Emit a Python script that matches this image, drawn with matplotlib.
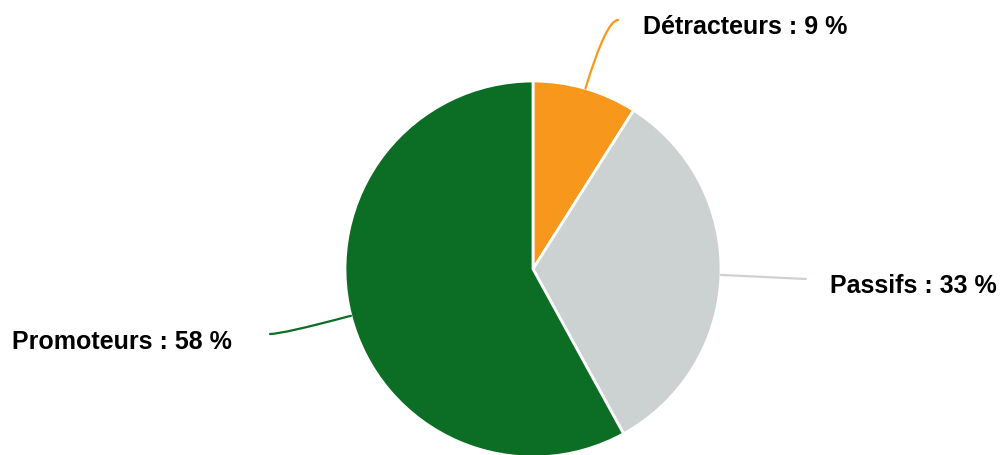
import numpy as np
import matplotlib
matplotlib.use("Agg")
import matplotlib.pyplot as plt

# Données
categories = ["Détracteurs", "Passifs", "Promoteurs"]
valeurs = [9, 33, 58]
couleurs = ["#F7981D", "#CCD1D1", "#0C6E24"]

W, H = 1002, 456
centre = (533, H - 270)
rayon = 188

fig = plt.figure(figsize=(W / 100, H / 100), dpi=100)
ax = fig.add_axes([0, 0, 1, 1])

wedges, _ = ax.pie(
    valeurs,
    colors=couleurs,
    startangle=90,
    counterclock=False,
    center=centre,
    radius=rayon,
    wedgeprops=dict(edgecolor="white", linewidth=2),
)
ax.set_xlim(0, W)
ax.set_ylim(0, H)
ax.set_aspect("equal")
ax.axis("off")

# fin des lignes de rappel, position du texte, forme de la courbe
fins = [(618, H - 21), (806, H - 280), (270, H - 335)]
textes = [(643, H - 27), (830, H - 286), (12, H - 342)]
connexions = ["angle3,angleA=73,angleB=0", "arc3,rad=0", "angle3,angleA=15,angleB=0"]

for w, cat, val, fin, pos, con, cl in zip(wedges, categories, valeurs, fins, textes, connexions, couleurs):
    ang = np.deg2rad((w.theta1 + w.theta2) / 2)
    bord = (centre[0] + rayon * np.cos(ang), centre[1] + rayon * np.sin(ang))
    ax.annotate(
        "", xy=fin, xytext=bord,
        arrowprops=dict(arrowstyle="-", color=cl, lw=1.6,
                        connectionstyle=con, shrinkA=0, shrinkB=0),
    )
    ax.text(pos[0], pos[1], f"{cat} : {val} %", fontsize=18, fontweight="bold",
            family="Liberation Sans", va="center", ha="left", color="black")

fig.savefig("out.png", dpi=100)
